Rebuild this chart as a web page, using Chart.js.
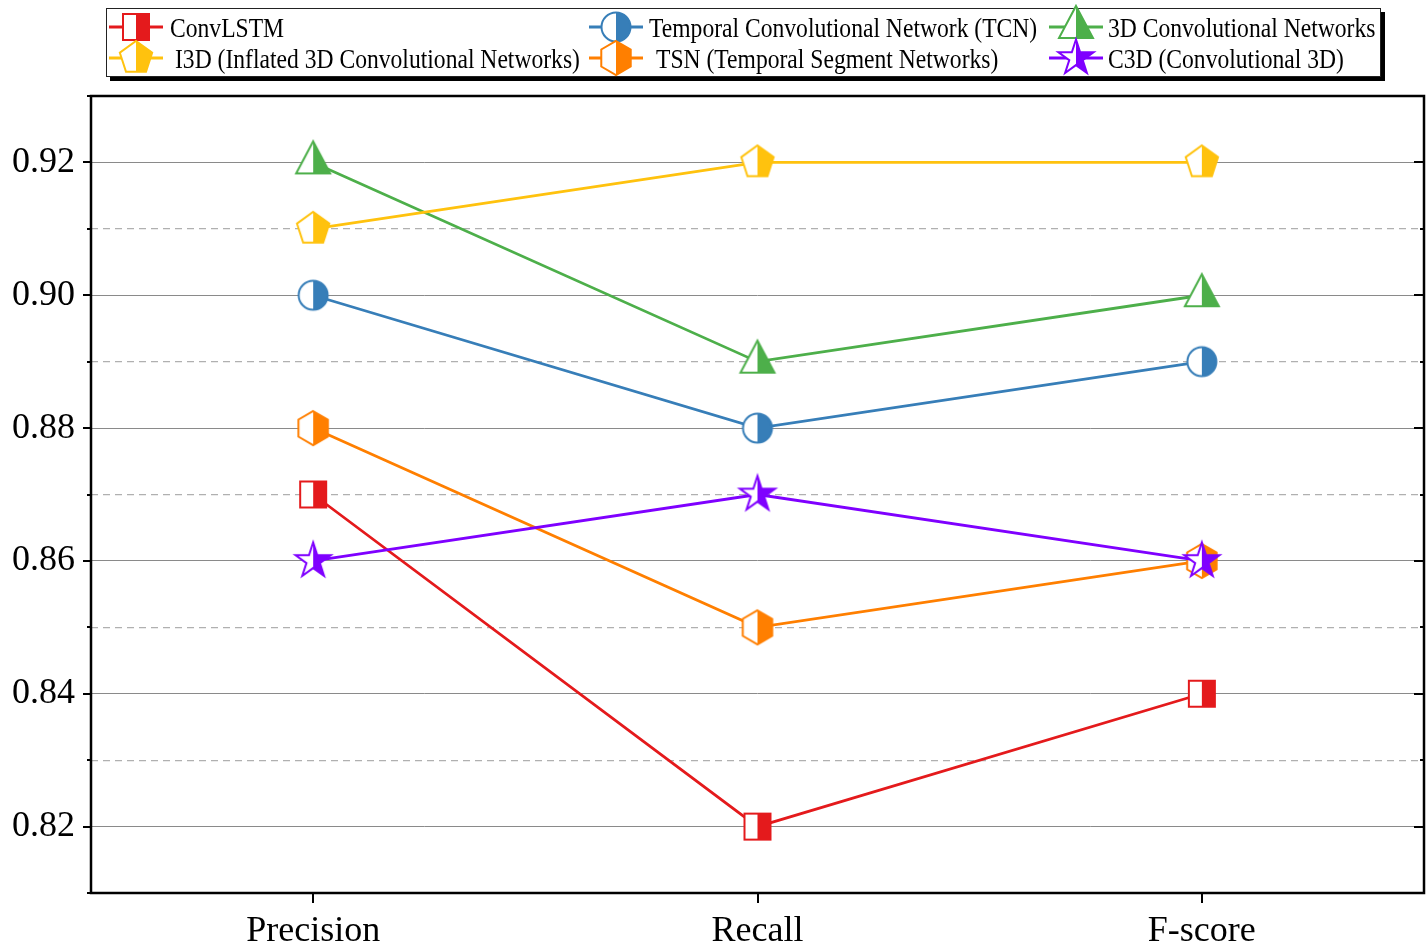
<!DOCTYPE html>
<html>
<head>
<meta charset="utf-8">
<script src="https://cdn.jsdelivr.net/npm/chart.js@4.4.1/dist/chart.umd.min.js"></script>
<style>
html,body{margin:0;padding:0;background:#fff;}
#wrap{position:relative;width:1427px;height:946px;overflow:hidden;background:#fff;}
#c{position:absolute;left:0;top:0;}
#legend{position:absolute;left:106px;top:8px;width:1273px;height:67px;border:1px solid #222;background:#fff;box-shadow:4px 4px 0 #000;z-index:2;}
.lt{position:absolute;font-family:"Liberation Serif","Times New Roman",serif;font-size:23.6px;line-height:24px;white-space:nowrap;color:#000;transform:scaleY(1.15);}
.lm{position:absolute;}
</style>
</head>
<body>
<div id="wrap">
  <canvas id="c" width="1427" height="946"></canvas>
  <div id="legend"></div>
</div>
<script>
// ---------- data ----------
const categories = ['Precision', 'Recall', 'F-score'];
const seriesNames = [
  'ConvLSTM',
  'Temporal Convolutional Network (TCN)',
  '3D Convolutional Networks',
  'I3D (Inflated 3D Convolutional Networks)',
  'TSN (Temporal Segment Networks)',
  'C3D (Convolutional 3D)'
];
const convLSTM = [0.87, 0.82, 0.84];
const tcn      = [0.90, 0.88, 0.89];
const conv3d   = [0.92, 0.89, 0.90];
const i3d      = [0.91, 0.92, 0.92];
const tsn      = [0.88, 0.85, 0.86];
const c3d      = [0.86, 0.87, 0.86];
const yTickLabels = ['0.82', '0.84', '0.86', '0.88', '0.90', '0.92'];

// ---------- styles ----------
const seriesValues = [convLSTM, tcn, conv3d, i3d, tsn, c3d];
const shapes = ['square', 'circle', 'triangle', 'pentagon', 'hexagon', 'star'];
const colors = ['#e41a1c', '#377eb8', '#4daf4a', '#ffc20e', '#ff7f00', '#7f00ff'];

function shapePath(ctx, shape, cx, cy) {
  ctx.beginPath();
  if (shape === 'square') {
    ctx.rect(cx - 13, cy - 13, 26, 26);
  } else if (shape === 'circle') {
    ctx.arc(cx, cy, 14.5, 0, Math.PI * 2);
  } else if (shape === 'triangle') {
    ctx.moveTo(cx, cy - 21); ctx.lineTo(cx + 17, cy + 11); ctx.lineTo(cx - 17, cy + 11); ctx.closePath();
  } else if (shape === 'pentagon' || shape === 'hexagon') {
    const n = shape === 'pentagon' ? 5 : 6, R = 17;
    for (let k = 0; k < n; k++) {
      const a = -Math.PI / 2 + k * 2 * Math.PI / n;
      const px = cx + R * Math.cos(a), py = cy + R * Math.sin(a);
      k ? ctx.lineTo(px, py) : ctx.moveTo(px, py);
    }
    ctx.closePath();
  } else if (shape === 'star') {
    const R = 18.5, r = R * 0.382;
    for (let k = 0; k < 10; k++) {
      const a = -Math.PI / 2 + k * Math.PI / 5;
      const rr = k % 2 ? r : R;
      const px = cx + rr * Math.cos(a), py = cy + rr * Math.sin(a);
      k ? ctx.lineTo(px, py) : ctx.moveTo(px, py);
    }
    ctx.closePath();
  }
}
function drawHalfMarker(ctx, shape, color, cx, cy) {
  shapePath(ctx, shape, cx, cy);
  ctx.fillStyle = '#fff'; ctx.fill();
  ctx.save();
  ctx.beginPath(); ctx.rect(cx, cy - 40, 40, 80); ctx.clip();
  shapePath(ctx, shape, cx, cy);
  ctx.fillStyle = color; ctx.fill();
  ctx.restore();
  shapePath(ctx, shape, cx, cy);
  ctx.lineJoin = 'miter';
  ctx.strokeStyle = color; ctx.lineWidth = 2; ctx.stroke();
}
function makeMarker(shape, color) {
  const c = document.createElement('canvas');
  c.width = 48; c.height = 48;
  drawHalfMarker(c.getContext('2d'), shape, color, 24, 24);
  return c;
}
function makeLegendMarker(shape, color) {
  const c = document.createElement('canvas');
  c.width = 64; c.height = 48;
  const g = c.getContext('2d');
  g.strokeStyle = color; g.lineWidth = 2.8;
  g.beginPath(); g.moveTo(5, 24); g.lineTo(59, 24); g.stroke();
  drawHalfMarker(g, shape, color, 32, 24);
  return c;
}

// ---------- legend (HTML) ----------
const legendBox = {left: 107, top: 9};
const legendMarkerX = [136, 616, 1076];
const legendRowY = [27, 58];
const legendTextX = [170, 649, 1108, 175, 656, 1108];
const legendEl = document.getElementById('legend');
seriesNames.forEach((name, i) => {
  const row = Math.floor(i / 3), col = i % 3;
  const m = makeLegendMarker(shapes[i], colors[i]);
  m.className = 'lm';
  m.style.left = (legendMarkerX[col] - 32 - legendBox.left) + 'px';
  m.style.top = (legendRowY[row] - 24 - legendBox.top) + 'px';
  legendEl.appendChild(m);
  const t = document.createElement('span');
  t.className = 'lt';
  t.textContent = name;
  t.style.left = (legendTextX[i] - legendBox.left) + 'px';
  t.style.top = (legendRowY[row] + 0.5 - 12 - legendBox.top) + 'px';
  legendEl.appendChild(t);
});

// ---------- chart ----------
const isMajor = v => Math.round(v * 100) % 2 === 0;

const framePlugin = {
  id: 'frame',
  afterDraw(chart) {
    const {ctx, chartArea: a, scales: {x, y}} = chart;
    ctx.save();
    ctx.strokeStyle = '#000';
    ctx.lineWidth = 2;
    ctx.beginPath();
    y.ticks.forEach(t => {
      const py = Math.round(y.getPixelForValue(t.value));
      const maj = isMajor(t.value);
      ctx.moveTo(a.left - (maj ? 8 : 4), py); ctx.lineTo(a.left, py);
      ctx.moveTo(a.right, py); ctx.lineTo(a.right - (maj ? 10 : 4), py);
    });
    categories.forEach((c, i) => {
      const px = Math.round(x.getPixelForValue(i));
      ctx.moveTo(px, a.bottom); ctx.lineTo(px, a.bottom + 10);
    });
    ctx.stroke();
    ctx.lineWidth = 2.5;
    ctx.strokeRect(a.left, a.top, a.right - a.left, a.bottom - a.top);
    ctx.restore();
  }
};

new Chart(document.getElementById('c'), {
  type: 'line',
  data: {
    labels: categories,
    datasets: seriesNames.map((name, i) => ({
      label: name,
      data: seriesValues[i],
      borderColor: colors[i],
      backgroundColor: colors[i],
      borderWidth: 2.8,
      tension: 0,
      fill: false,
      pointStyle: makeMarker(shapes[i], colors[i]),
      pointRadius: 1,
      pointHoverRadius: 1,
      pointBorderWidth: 0,
      order: -i
    }))
  },
  options: {
    responsive: false,
    devicePixelRatio: 1,
    animation: false,
    events: [],
    layout: {padding: {top: 96, right: 3, left: 0, bottom: 0}},
    plugins: {legend: {display: false}, tooltip: {enabled: false}},
    scales: {
      x: {
        type: 'category',
        offset: true,
        afterFit: s => { s.height = 53; s.paddingLeft = 0; s.paddingRight = 0; },
        grid: {display: true, drawOnChartArea: false, drawTicks: false},
        border: {display: false},
        ticks: {
          color: '#000',
          padding: 17,
          maxRotation: 0,
          font: {family: '"Liberation Serif", "Times New Roman", serif', size: 36}
        }
      },
      y: {
        min: 0.81,
        max: 0.93,
        afterFit: s => { s.width = 91; s.paddingTop = 0; s.paddingBottom = 0; },
        grid: {
          drawTicks: false,
          color: c => isMajor(c.tick.value) ? '#8a8a8a' : '#b0b0b0',
          lineWidth: c => isMajor(c.tick.value) ? 1 : 1.2
        },
        border: {display: false, dash: c => (c.tick && !isMajor(c.tick.value)) ? [7, 5] : []},
        ticks: {
          stepSize: 0.01,
          autoSkip: false,
          color: '#000',
          padding: 16,
          font: {family: '"Liberation Serif", "Times New Roman", serif', size: 36},
          callback: v => {
            const s = Number(v).toFixed(2);
            return yTickLabels.includes(s) ? s : '';
          }
        }
      }
    }
  },
  plugins: [framePlugin]
});
</script>
</body>
</html>
